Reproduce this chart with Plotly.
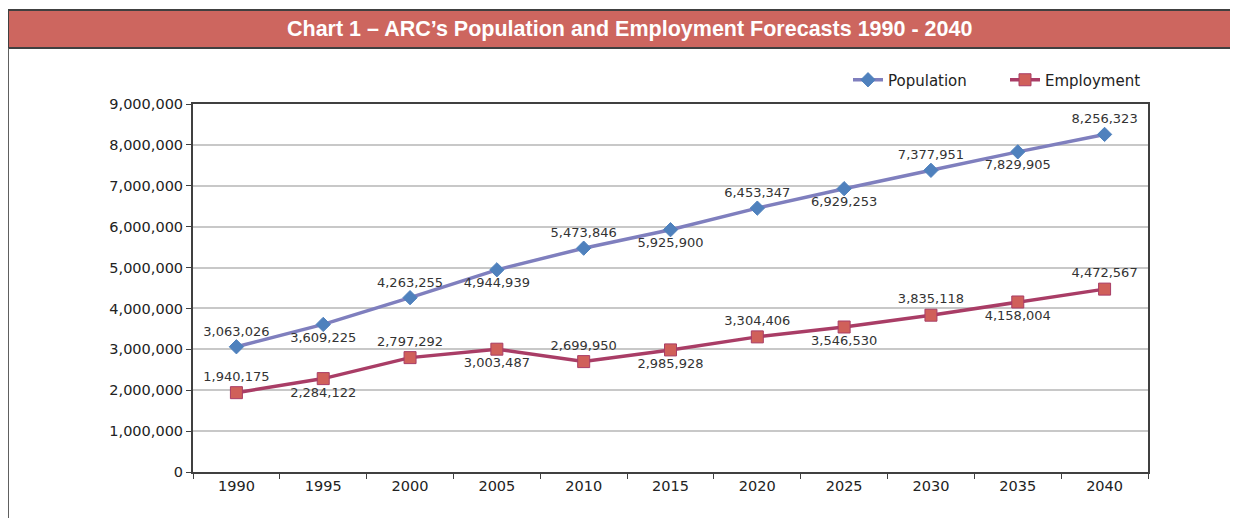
import plotly.graph_objects as go

years = ["1990", "1995", "2000", "2005", "2010", "2015", "2020", "2025", "2030", "2035", "2040"]
population = [3063026, 3609225, 4263255, 4944939, 5473846, 5925900, 6453347, 6929253, 7377951, 7829905, 8256323]
employment = [1940175, 2284122, 2797292, 3003487, 2699950, 2985928, 3304406, 3546530, 3835118, 4158004, 4472567]
y_ticks = [0, 1000000, 2000000, 3000000, 4000000, 5000000, 6000000, 7000000, 8000000, 9000000]

pop_pos = ["top center", "bottom center"] * 5 + ["top center"]
emp_pos = ["top center", "bottom center"] * 5 + ["top center"]

W, H = 1238, 518
OFF = 8  # page body margin in the browser
# target plot-area pixel box in the screenshot
PL, PR, PT, PB = 193, 1148, 104, 472
L = PL - OFF
T = PT - OFF
R = W - (PR - OFF)
B = H - (PB - OFF)
pw, ph = PR - PL, PB - PT

def px(x):
    return (x - PL) / pw

def py(y):
    return (PB - y) / ph

font = "DejaVu Sans, Arial, sans-serif"
title_font = "Liberation Sans, Arial, sans-serif"

fig = go.Figure()
fig.add_trace(go.Scatter(
    x=years, y=population, name="Population", mode="lines+markers+text",
    line=dict(color="#7F7FBE", width=3.5),
    marker=dict(symbol="diamond", size=11, color="#4F81BD", line=dict(color="#4F81BD", width=1)),
    text=[f"{v:,}" for v in population], textposition=pop_pos,
    textfont=dict(size=13, color="#333333", family=font),
    cliponaxis=False,
))
fig.add_trace(go.Scatter(
    x=years, y=employment, name="Employment", mode="lines+markers+text",
    line=dict(color="#A93D66", width=3.5),
    marker=dict(symbol="square", size=12, color="#D0605A", line=dict(color="#A93D66", width=1)),
    text=[f"{v:,}" for v in employment], textposition=emp_pos,
    textfont=dict(size=13, color="#333333", family=font),
    cliponaxis=False,
))

fig.update_layout(
    width=W, height=H,
    margin=dict(l=L, r=R, t=T, b=B),
    paper_bgcolor="white", plot_bgcolor="white",
    font=dict(family=font, size=13, color="#222222"),
    showlegend=True,
    legend=dict(orientation="h", x=px(1162), xanchor="right", y=py(80), yanchor="middle",
                font=dict(size=15, color="#222222"), bgcolor="rgba(0,0,0,0)",
                entrywidth=112, entrywidthmode="pixels", traceorder="normal"),
    xaxis=dict(type="category", range=[-0.5, 10.5], showgrid=False,
               showline=True, linecolor="#404040", linewidth=2, mirror=True,
               ticks="outside", tickson="boundaries", ticklen=5, tickcolor="#404040",
               tickfont=dict(size=14.5, color="#222222")),
    yaxis=dict(range=[0, 9000000], tickvals=y_ticks, tickformat=",d",
               showgrid=True, gridcolor="#C8C8C8", gridwidth=1.5,
               showline=True, linecolor="#404040", linewidth=2, mirror=True,
               ticks="outside", ticklen=5, tickcolor="#404040",
               tickfont=dict(size=14.5, color="#222222"), zeroline=False),
    shapes=[
        dict(type="rect", xref="paper", yref="paper",
             x0=px(8), x1=px(1250), y0=py(48), y1=py(10),
             fillcolor="#CD665F", line=dict(color="#404040", width=2), layer="above"),
        dict(type="line", xref="paper", yref="paper",
             x0=px(8), x1=px(8), y0=py(48), y1=py(530),
             line=dict(color="#606060", width=2)),
    ],
    annotations=[
        dict(text="<b>Chart 1 – ARC’s Population and Employment Forecasts 1990 - 2040</b>",
             xref="paper", yref="paper", x=px(629), y=py(29), xanchor="center", yanchor="middle",
             showarrow=False, font=dict(size=21.5, color="white", family=title_font)),
    ],
)

fig.write_html("out.html")
